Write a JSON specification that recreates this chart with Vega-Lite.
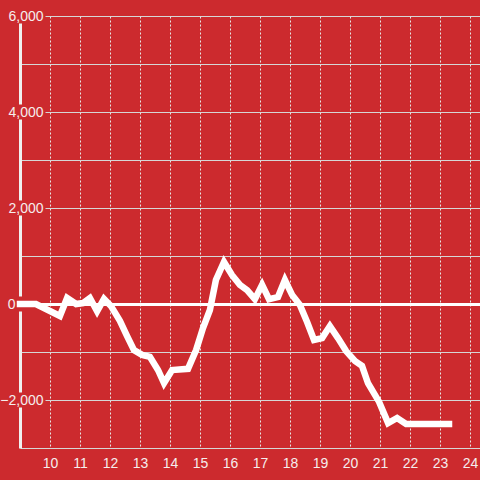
{
  "$schema": "https://vega.github.io/schema/vega-lite/v6.json",
  "width": 460,
  "height": 432,
  "autosize": {"type": "none"},
  "padding": {"left": 20, "top": 16, "right": 0, "bottom": 32},
  "background": "#cc2a2e",
  "config": {"view": {"stroke": null}, "font": "Liberation Sans"},
  "data": {
    "values": [
      {"t": 9.0, "v": 0}, {"t": 9.53, "v": 0}, {"t": 10.33, "v": -250}, {"t": 10.57, "v": 125},
      {"t": 10.87, "v": 0}, {"t": 11.1, "v": 20}, {"t": 11.33, "v": 125}, {"t": 11.57, "v": -150},
      {"t": 11.8, "v": 105}, {"t": 12.03, "v": -40}, {"t": 12.33, "v": -350}, {"t": 12.57, "v": -670},
      {"t": 12.8, "v": -960}, {"t": 13.07, "v": -1060}, {"t": 13.33, "v": -1100}, {"t": 13.6, "v": -1375},
      {"t": 13.8, "v": -1650}, {"t": 14.07, "v": -1375}, {"t": 14.6, "v": -1350}, {"t": 14.87, "v": -960},
      {"t": 15.1, "v": -500}, {"t": 15.33, "v": -125}, {"t": 15.53, "v": 500}, {"t": 15.8, "v": 875},
      {"t": 16.07, "v": 600}, {"t": 16.33, "v": 400}, {"t": 16.57, "v": 290}, {"t": 16.83, "v": 100},
      {"t": 17.07, "v": 400}, {"t": 17.3, "v": 100}, {"t": 17.6, "v": 145}, {"t": 17.83, "v": 500},
      {"t": 18.07, "v": 190}, {"t": 18.33, "v": -20}, {"t": 18.57, "v": -375}, {"t": 18.8, "v": -750},
      {"t": 19.07, "v": -710}, {"t": 19.33, "v": -460}, {"t": 19.6, "v": -710}, {"t": 19.87, "v": -980},
      {"t": 20.17, "v": -1190}, {"t": 20.4, "v": -1290}, {"t": 20.6, "v": -1650}, {"t": 20.97, "v": -2040},
      {"t": 21.27, "v": -2480}, {"t": 21.57, "v": -2375}, {"t": 21.87, "v": -2500}, {"t": 23.3, "v": -2500}
    ]
  },
  "mark": {"type": "line", "color": "#ffffff", "strokeWidth": 6.5, "strokeCap": "square", "strokeJoin": "miter", "clip": false},
  "encoding": {
    "x": {
      "field": "t", "type": "quantitative",
      "scale": {"domain": [9, 24.3333], "nice": false, "zero": false},
      "axis": {
        "title": null,
        "values": [10, 11, 12, 13, 14, 15, 16, 17, 18, 19, 20, 21, 22, 23, 24],
        "domain": false, "ticks": false, "tickSize": 0,
        "labelPadding": 8, "labelFontSize": 14, "labelColor": "#f5eded",
        "labelFlush": false, "labelOverlap": false,
        "grid": true, "gridColor": "#e6e6e6", "gridDash": [2, 2], "gridWidth": 1
      }
    },
    "y": {
      "field": "v", "type": "quantitative",
      "scale": {"domain": [-3000, 6000], "nice": false, "zero": false},
      "axis": {
        "title": null,
        "values": [-3000, -2000, -1000, 0, 1000, 2000, 3000, 4000, 5000, 6000],
        "format": ",d",
        "labelExpr": "datum.value % 2000 == 0 ? datum.label : ''",
        "ticks": false, "tickSize": 0,
        "domain": true, "domainColor": "#f0f0f0", "domainWidth": 3,
        "domainDash": [81, 15], "domainDashOffset": 40,
        "labelAlign": "right", "labelBaseline": "middle",
        "labelPadding": {"condition": {"test": "datum.value == 0", "value": 5}, "value": -23},
        "labelFontSize": 14, "labelColor": "#f5eded",
        "labelOverlap": false, "labelBound": false, "labelFlush": false,
        "grid": true,
        "gridColor": {"condition": {"test": "datum.value == 0", "value": "#ffffff"}, "value": "#d6d6d6"},
        "gridWidth": {"condition": {"test": "datum.value == 0", "value": 3}, "value": 1},
        "gridDash": {"condition": {"test": "datum.value % 2000 == 0 && datum.value != 0 && datum.value != -3000", "value": [0, 25, 1000]}, "value": []}
      }
    }
  }
}
